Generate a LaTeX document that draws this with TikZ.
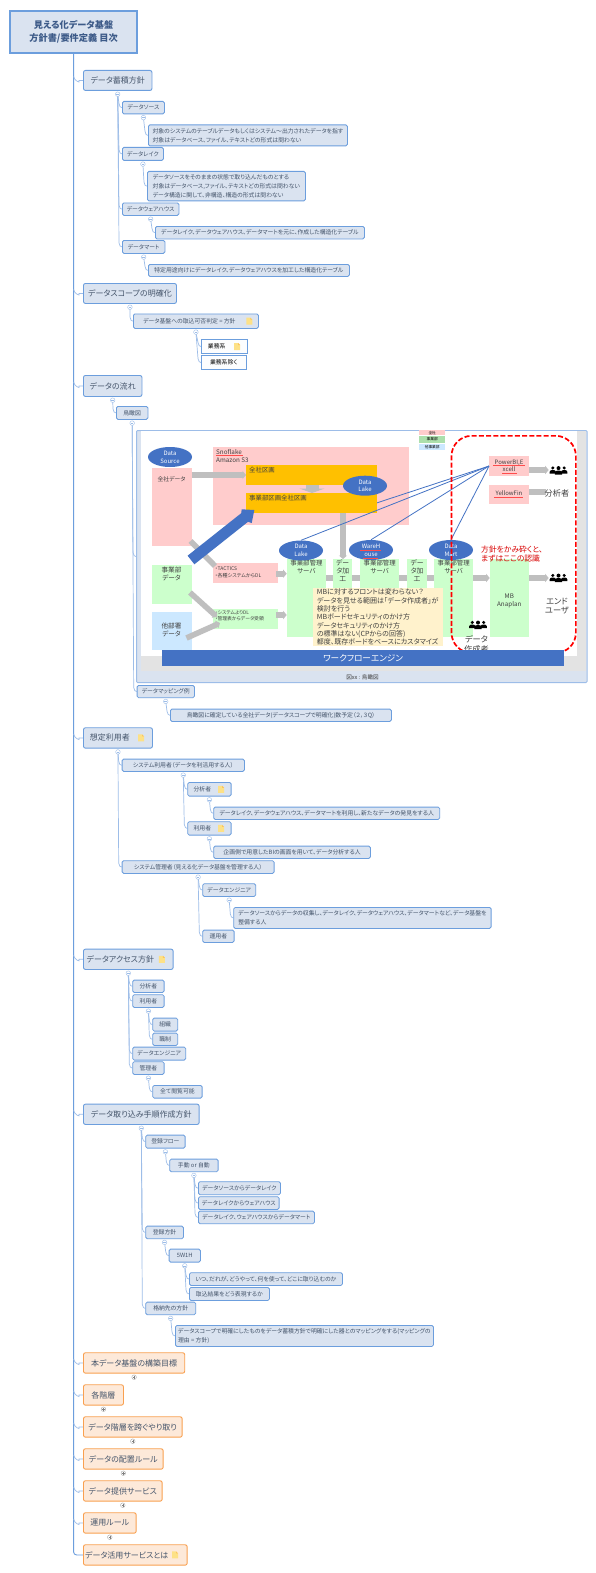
\documentclass[tikz,border=0pt]{standalone}
\usepackage{fontspec}
\setmainfont[RawFeature=+palt]{Noto Sans CJK JP}
\usetikzlibrary{calc,shapes.geometric,arrows.meta}
\pgfdeclarelayer{bgc}\pgfdeclarelayer{frame}\pgfdeclarelayer{under}
\pgfsetlayers{bgc,frame,under,main}
\definecolor{bfill}{HTML}{DAE3F0}
\definecolor{bline}{HTML}{6C9EDD}
\definecolor{cline}{HTML}{9DBDE8}
\definecolor{btext}{HTML}{44546A}
\definecolor{rtext}{HTML}{3C5A88}
\definecolor{ofill}{HTML}{FDE9D9}
\definecolor{oline}{HTML}{F9A050}
\definecolor{pinkb}{HTML}{FFCCCC}
\definecolor{greenb}{HTML}{CCFFCC}
\definecolor{skyb}{HTML}{CCE8FF}
\definecolor{orangeb}{HTML}{FFC000}
\definecolor{blueb}{HTML}{4472C4}
\definecolor{grayb}{HTML}{BFBFBF}
\definecolor{noteb}{HTML}{FFF2CC}
\newcommand{\fs}[2]{\fontsize{#1}{#2}\selectfont}
\newcommand{\nd}[7]{\node[#1,anchor=north west,minimum width={(#5-#3)*1pt},minimum height={(#6-#4)*1pt}] (#2) at (#3,#4) {#7};}
\newcommand{\lnk}[2]{\begin{pgfonlayer}{bgc}\draw[conn] ($(#1.south)+(0,3.3)$) -- ($(#2.west)+(-3,-4)$) .. controls ($(#2.west)+(-3,-1)$) and ($(#2.west)+(-1,0)$) .. (#2.west);\end{pgfonlayer}}
\newcommand{\tlnk}[1]{\begin{pgfonlayer}{bgc}\draw[conn] (root.south |- #1.west) ++(0,-4) .. controls +(0,3.5) and +(2,4) .. ($(#1.west)+(-4,0)$) -- (#1.west);\end{pgfonlayer}}
\newcommand{\bub}[1]{\node[bubble] (#1-b) at ($(#1.south)+(0,3.3)$) {}; \draw[cline,line width=.4] ($(#1-b.center)+(-1.3,0)$) -- ($(#1-b.center)+(1.3,0)$);}
\newcommand{\bubp}[1]{\node[bubble,draw=gray!70] (#1-b) at ($(#1.south)+(0,3.6)$) {}; \draw[gray,line width=.35] ($(#1-b.center)+(-1.3,0)$) -- ($(#1-b.center)+(1.3,0)$) ($(#1-b.center)+(0,-1.3)$) -- ($(#1-b.center)+(0,1.3)$);}
\newcommand{\nic}[2]{\fill[notei] ($(#1.east)+(-#2-3,-3.5)$) -- ++(4,0) -- ++(2,2) -- ++(0,5) -- ++(-6,0) -- cycle; \fill[notei!70!orange] ($(#1.east)+(-#2+1,-3.5)$) -- ++(2,2) -- ++(-2,0) -- cycle;}
\newcommand{\people}[2]{\begin{scope}[shift={(#1,#2)}]
\foreach \dx/\dy/\s in {-5.7/-.5/.85,5.7/-.5/.85,0/0/1}{
\begin{scope}[shift={(\dx,\dy)},scale=\s]
\fill[black] (0,-2.4) circle (2);
\fill[black] (-3.6,4.2) -- (-3.6,2) .. controls (-3.6,.2) and (-1.8,.1) .. (0,.1) .. controls (1.8,.1) and (3.6,.2) .. (3.6,2) -- (3.6,4.2) -- cycle;
\end{scope}}
\end{scope}}
\newcommand{\spl}[3]{\draw[red!70,line width=.3] (#1,#3) -- (#2,#3);}
\colorlet{notei}{yellow!55!orange!45}
\tikzset{
 rootbox/.style={draw=bline,fill=bfill,line width=2.2pt,inner sep=0,text=rtext,align=center,font=\bfseries\fs{9.2}{13}},
 lone/.style={draw=bline,fill=bfill,line width=.9pt,rounded corners=2pt,inner sep=0,text=btext,font=\fs{8}{11}},
 ltwo/.style={draw=bline,fill=bfill,line width=.8pt,rounded corners=1.5pt,inner sep=0,text=btext,align=left,font=\fs{5.85}{8.7}},
 lwhite/.style={draw=bline,fill=white!92!bfill,line width=1pt,inner sep=0,text=black,font=\fs{5.85}{8.7}},
 lorange/.style={draw=oline,fill=ofill,line width=.9pt,rounded corners=2pt,inner sep=0,text=btext,font=\fs{8}{11}},
 conn/.style={draw=cline,line width=.7pt},
 bubble/.style={circle,draw=cline,fill=white,line width=.4pt,minimum size=4.6pt,inner sep=0},
 plain/.style={inner sep=0,align=center,text=black!75},
 solid box/.style={inner sep=0,draw=none},
 ell/.style={ellipse,fill=blueb,minimum width=44pt,minimum height=20pt,inner sep=0,text=white,align=center,font=\fs{6}{7.7}},
 garrow/.style={draw=grayb,line width=5.6pt,-{Triangle[length=3.5pt,width=8pt]}},
 gline/.style={draw=grayb,line width=5.6pt},
 bluel/.style={draw=blueb,line width=.8pt},
}
\begin{document}
\begin{tikzpicture}[x=1pt,y=-1pt]
\useasboundingbox (0,0) rectangle (596,1573);
% ---- main tree nodes
\nd{rootbox}{root}{9}{10}{136}{52}{見える化データ基盤\\方針書/要件定義 目次}
\nd{lone}{a}{83}{70}{151.5}{90}{データ蓄積方針}
\nd{ltwo}{a1}{122}{101}{164}{113.5}{データソース}
\nd{ltwo}{a1d}{148}{124.5}{347}{145.5}{対象のシステムのテーブルデータもしくはシステム～出力されたデータを指す\\対象はデータベース、ファイル、テキストどの形式は問わない}
\nd{ltwo}{a2}{122}{147}{163}{160}{データレイク}
\nd{ltwo}{a2d}{147}{171}{305}{200.5}{データソースをそのままの状態で取り込んだものとする\\対象はデータベース,ファイル、テキストどの形式は問わない\\データ構造に関して、非構造、構造の形式は問わない}
\nd{ltwo}{a3}{122}{202.5}{178.5}{215}{データウェアハウス}
\nd{ltwo}{a3d}{155}{226}{364}{238.5}{データレイク、データウェアハウス、データマートを元に、作成した構造化テーブル}
\nd{ltwo}{a4}{122}{240}{164.5}{253}{データマート}
\nd{ltwo}{a4d}{148}{264}{349}{276}{特定用途向けにデータレイク、データウェアハウスを加工した構造化テーブル}
\nd{lone}{b}{83}{283}{176}{303}{データスコープの明確化}
\nd{ltwo}{b1}{133}{313.5}{258}{328}{データ基盤への取込可否判定 = 方針\hspace*{13pt}}
\nd{lwhite}{b11}{201}{339}{246.5}{353}{業務系\hspace*{15pt}}
\nd{lwhite}{b12}{201}{355}{245.5}{369}{業務系除く}
\nd{lone}{c}{83}{375}{141.5}{396}{データの流れ}
\nd{ltwo}{c1}{116}{406}{147.5}{419}{鳥瞰図}
\nd{ltwo}{c2}{136.7}{685}{194}{697.3}{データマッピング例}
\nd{ltwo}{c2d}{170}{708.7}{391}{721}{鳥瞰図に確定している全社データ(データスコープで明確化)数予定（２，３Q）}
\nd{lone}{d}{83}{727.3}{152}{747.7}{想定利用者\hspace*{16pt}}
\nd{ltwo}{d1}{121.7}{758.7}{244}{771}{システム利用者（データを利活用する人）}
\nd{ltwo}{d11}{187.3}{782}{230.7}{795.7}{分析者\hspace*{14pt}}
\nd{ltwo}{d11d}{213.3}{806.7}{439.3}{819}{データレイク、データウェアハウス、データマートを利用し、新たなデータの発見をする人}
\nd{ltwo}{d12}{187.3}{821.3}{230.7}{834.7}{利用者\hspace*{14pt}}
\nd{ltwo}{d12d}{213.3}{845.7}{370}{858}{企画側で用意したBIの画面を用いて、データ分析する人}
\nd{ltwo}{d2}{121.7}{860.3}{273.7}{873}{システム管理者（見える化データ基盤を管理する人）}
\nd{ltwo}{d21}{202.3}{883.3}{255.3}{896}{データエンジニア}
\nd{ltwo}{d21d}{233.3}{907}{490.7}{928}{データソースからデータの収集し、データレイク、データウェアハウス、データマートなど、データ基盤を\\整備する人}
\nd{ltwo}{d22}{202.3}{929.7}{233.7}{942}{運用者}
\nd{lone}{e}{83}{948.7}{172.7}{969}{データアクセス方針\hspace*{16pt}}
\nd{ltwo}{e1}{132.3}{979.7}{163.7}{992}{分析者}
\nd{ltwo}{e2}{132.3}{994.3}{163.7}{1007}{利用者}
\nd{ltwo}{e21}{152.3}{1017.7}{177.3}{1030.7}{組織}
\nd{ltwo}{e22}{152.3}{1032.7}{177.3}{1045}{職制}
\nd{ltwo}{e3}{132.3}{1046.7}{185.3}{1059.7}{データエンジニア}
\nd{ltwo}{e4}{132.3}{1061.3}{163.7}{1074}{管理者}
\nd{ltwo}{e41}{152.3}{1085}{201.7}{1097.7}{全て閲覧可能}
\nd{lone}{f}{83}{1103.7}{198.7}{1124}{データ取り込み手順作成方針}
\nd{ltwo}{f1}{145.3}{1134.7}{184.7}{1147.7}{登録フロー}
\nd{ltwo}{f11}{169.3}{1158.7}{217.7}{1171.3}{手動 or 自動}
\nd{ltwo}{f111}{198}{1181.3}{280}{1194.3}{データソースからデータレイク}
\nd{ltwo}{f112}{198}{1196.3}{278.7}{1209}{データレイクからウェアハウス}
\nd{ltwo}{f113}{198}{1210.7}{314}{1223.3}{データレイク、ウェアハウスからデータマート}
\nd{ltwo}{f2}{145.3}{1225.7}{183}{1238.3}{登録方針}
\nd{ltwo}{f21}{168.7}{1248.7}{200}{1261.7}{5W1H}
\nd{ltwo}{f211}{189}{1272.3}{342}{1285}{いつ、だれが、どうやって、何を使って、どこに取り込むのか}
\nd{ltwo}{f212}{189}{1287}{269}{1300}{取込結果をどう表現するか}
\nd{ltwo}{f3}{145.3}{1301.7}{195.3}{1314.3}{格納先の方針}
\nd{ltwo}{f3d}{175}{1325}{433}{1346}{データスコープで明確にしたものをデータ蓄積方針で明確にした器とのマッピングをする(マッピングの\\理由 = 方針)}
\nd{lorange}{g}{83}{1352.3}{184.3}{1372.7}{本データ基盤の構築目標}
\nd{lorange}{h}{83}{1384.3}{123}{1404.7}{各階層}
\nd{lorange}{i}{83}{1416.3}{181.7}{1436.7}{データ階層を跨ぐやり取り}
\nd{lorange}{j}{83}{1448.3}{162.7}{1468.7}{データの配置ルール}
\nd{lorange}{k}{83}{1480.3}{161.7}{1500.7}{データ提供サービス}
\nd{lorange}{l}{83}{1512.3}{135.7}{1532.7}{運用ルール}
\nd{lorange}{m}{83}{1544.3}{186.7}{1564.7}{データ活用サービスとは\hspace*{17pt}}
% ---- picture frame
\begin{pgfonlayer}{bgc}
\fill[white] (0,0) rectangle (596,1573);
\end{pgfonlayer}
\begin{pgfonlayer}{frame}
\node[draw=cline,fill=bfill,line width=1pt,rounded corners=1pt,inner sep=0,anchor=north west,minimum width=450.5pt,minimum height=252pt] (pic) at (136,430) {};
\fill[white] (141,431) rectangle (577,655.5);
\fill[gray!22] (577,431) rectangle (586,671);
\fill[gray!22] (141,655.5) rectangle (577,671);
\nd{solid box,fill=pinkb}{snow}{213}{447}{408.5}{524.5}{}
\end{pgfonlayer}
% ---- boxes inside picture
\nd{solid box,fill=pinkb}{zen}{152}{468}{191.5}{546}{}
\node[plain,font=\fs{5.8}{8}] (zent) at (171.5,479) {全社データ};
\nd{solid box,fill=orangeb}{or1}{246}{465}{377}{485}{}
\nd{solid box,fill=orangeb}{or2}{246}{493}{377}{513}{}
\node[plain,anchor=west,font=\fs{6.4}{8}] (or1t) at (249,470) {全社区画};
\node[plain,anchor=west,font=\fs{6.4}{8}] (or2t) at (249,497.7) {事業部区画全社区画};
\node[plain,anchor=north west,align=left,font=\fs{6.3}{8}] (snowt) at (216,449.3) {Snoflake\\Amazon S3};
\nd{solid box,fill=greenb}{jig}{152}{565}{191.5}{604}{}
\node[plain,font=\fs{6.6}{7.8}] (jigt) at (171.5,574) {事業部\\データ};
\nd{solid box,fill=skyb}{tab}{152}{611.7}{191.5}{650}{}
\node[plain,font=\fs{6.6}{8.3}] (tabt) at (171.5,630) {他部署\\データ};
\nd{solid box,fill=pinkb}{tac}{213}{563}{278}{583}{}
\node[plain,anchor=west,align=left,font=\fs{5}{6.7}] (tact) at (215,572.5) {・TACTICS\\・各種システムからDL};
\nd{solid box,fill=greenb}{sys}{213}{609}{278}{629}{}
\node[plain,anchor=west,align=left,font=\fs{4.8}{6}] (syst) at (215,615.3) {・システムよりDL\\・管理表からデータ受領};
\nd{solid box,fill=greenb}{sv1}{286.7}{559}{325.7}{637}{}
\nd{solid box,fill=greenb}{ka1}{333}{559}{352}{590}{}
\nd{solid box,fill=greenb}{sv2}{360}{559}{399}{637}{}
\nd{solid box,fill=greenb}{ka2}{407}{559}{426.7}{590}{}
\nd{solid box,fill=greenb}{sv3}{434}{559}{473}{637}{}
\nd{solid box,fill=greenb}{mb}{489.7}{559}{529}{637}{}
\node[plain,font=\fs{6.3}{8}] (mbt) at (509.3,601.3) {MB\\Anaplan};
\foreach \n in {sv1,sv2,sv3}{\node[plain,anchor=north,font=\fs{6.4}{7.7}] (\n t) at ($(\n.north)+(0,1)$) {事業部管理\\サーバ};}
\foreach \n in {ka1,ka2}{\node[plain,anchor=north,font=\fs{6.8}{7.7}] (\n t) at ($(\n.north)+(0,1)$) {デー\\タ加\\工};}
\nd{solid box,fill=pinkb}{pbi}{489}{456}{529}{475.7}{}
\node[plain,font=\fs{6}{7.6}] (pbit) at (509,465.8) {PowerBI,E\\xcell};
\nd{solid box,fill=pinkb}{yel}{489}{485}{529}{504}{}
\node[plain,font=\fs{6}{8}] (yelt) at (509,493.5) {YellowFin};
% legend
\nd{solid box,fill=pinkb,font=\fs{3.7}{4},text=black}{lg1}{419}{430}{445}{435}{全社}
\nd{solid box,fill=green!45!gray!45,font=\fs{3.7}{4},text=black}{lg2}{419}{436}{445}{442.3}{事業部}
\nd{solid box,fill=skyb,font=\fs{3.7}{4},text=black}{lg3}{419}{443.7}{445}{450}{他事業部}
% pipes & blue lines under the boxes
\begin{pgfonlayer}{under}
\draw[garrow] (sv1.east |- 0,578) -- (mb.west |- 0,578);
\coordinate (dlA) at (350,511.7);
\draw[bluel] (dlA) -- (pbi.west);
\end{pgfonlayer}
\draw[garrow] (zen.east |- 0,475) -- (or1.west |- 0,475);
\draw[draw=grayb,line width=13pt,-{Triangle[length=4.5pt,width=25pt]}] (or1.south -| 312,0) -- (or2.north -| 312,0);
\draw[garrow] (or2.south -| 343,0) -- (ka1.north -| 343,0);
\coordinate (g1s) at (190.5,541); \coordinate (g1e) at (215,566);
\draw[gline] (g1s) -- (g1e);
\coordinate (g2s) at (190,592.5); \coordinate (g2e) at (217,617);
\draw[garrow] (g2s) -- (g2e);
\coordinate (g3s) at (186.5,638); \coordinate (g3e) at (220,623);
\draw[garrow] (g3s) -- (g3e);
\draw[garrow] ($(tac.east |- 0,573.7)+(-2.3,0)$) -- (sv1.west |- 0,573.7);
\draw[garrow] ($(sys.east |- 0,615)+(-2.3,0)$) -- (sv1.west |- 0,615);
\draw[garrow] (pbi.east |- 0,470) -- ++(19.3,0) coordinate (parr);
\draw[gline] (yel.east |- 0,492) -- ++(17,0) coordinate (yarr);
\draw[garrow] (mb.east |- 0,578) -- ++(19.3,0) coordinate (marr);
% big blue arrow
\fill[blueb] (187.6,555.7) -- (241.2,513.2) -- (241.7,509.3) -- (254.3,510) -- (251.7,523) -- (248,521.8) -- (194.4,564.3) -- cycle;
% note
\nd{solid box,fill=noteb,align=left,font=\fs{7}{8.3},text=black!75}{note}{312.3}{587.7}{442.7}{646}{MBに対するフロントは変わらない？\\データを見せる範囲は「データ作成者」が\\検討を行う\\MBボードセキュリティのかけ方\\データセキュリティのかけ方\\の標準はない(CPからの回答)\\都度、既存ボードをベースにカスタマイズ}
% ellipses
\node[ell] (ds) at (170,457) {Data\\Source};
\node[ell] (dl1) at (365,485.7) {Data\\Lake};
\node[ell] (dl2) at (301,550.5) {Data\\Lake};
\node[ell] (wh) at (371,550) {WareH\\ouse};
\node[ell] (dm) at (451,550) {Data\\Mart};
\draw[bluel] (dl2.north) -- (pbi.west);
\draw[bluel] (wh.north) -- (pbi.west);
\draw[bluel] (dm.north) -- (pbi.west);
% people
\people{558.5}{470.5}
\people{558.5}{578}
\people{478}{625}
\node[plain,font=\fs{8.2}{9}] (lab1) at (557,606) {エンド\\ユーザ};
\node[plain,font=\fs{8.2}{9.3}] (lab2) at (476.5,644.5) {データ\\作成者};
\node[plain,font=\fs{8.2}{9}] (lab3) at (557,493) {分析者};
% red
\node[draw=red,line width=1.7pt,dash pattern=on 5pt off 2.2pt,rounded corners=20pt,inner sep=0,anchor=north west,minimum width=124.3pt,minimum height=217pt] (redr) at (450.7,435) {};
\node[plain,text=red!85!black,align=left,anchor=west,font=\fs{7.8}{9.8}] (redt) at (481,554) {方針をかみ砕くと、\\まずはここの認識};
% workflow band
\nd{solid box,fill=blueb,font=\fs{8.6}{9},text=white}{wf}{161.7}{650}{564}{665.3}{ワークフローエンジン}
\node[plain,font=\fs{5.6}{7}] (cap) at (362.5,677) {図xx : 鳥瞰図};
% ---- connectors
\begin{pgfonlayer}{bgc}
\draw[draw=bline,line width=.9pt,rounded corners=3pt] (root.south) |- (m.west);
\end{pgfonlayer}
\foreach \n in {a,b,c,d,e,f,g,h,i,j,k,l}{\tlnk{\n}}
\lnk{a}{a1}\lnk{a}{a2}\lnk{a}{a3}\lnk{a}{a4}
\lnk{a1}{a1d}\lnk{a2}{a2d}\lnk{a3}{a3d}\lnk{a4}{a4d}
\lnk{b}{b1}\lnk{b1}{b11}\lnk{b1}{b12}
\lnk{c}{c1}\lnk{c1}{pic}\lnk{c1}{c2}\lnk{c2}{c2d}
\lnk{d}{d1}\lnk{d}{d2}\lnk{d1}{d11}\lnk{d1}{d12}\lnk{d11}{d11d}\lnk{d12}{d12d}
\lnk{d2}{d21}\lnk{d2}{d22}\lnk{d21}{d21d}
\lnk{e}{e1}\lnk{e}{e2}\lnk{e}{e3}\lnk{e}{e4}\lnk{e2}{e21}\lnk{e2}{e22}\lnk{e4}{e41}
\lnk{f}{f1}\lnk{f}{f2}\lnk{f}{f3}\lnk{f1}{f11}\lnk{f11}{f111}\lnk{f11}{f112}\lnk{f11}{f113}
\lnk{f2}{f21}\lnk{f21}{f211}\lnk{f21}{f212}\lnk{f3}{f3d}
\foreach \n in {a,a1,a2,a3,a4,b,b1,c,c1,c2,d,d1,d11,d12,d2,d21,e,e2,e4,f,f1,f11,f2,f21,f3}{\bub{\n}}
\foreach \n in {g,h,i,j,k,l}{\bubp{\n}}
% note icons
\nic{b1}{9.5}\nic{b11}{10.5}\nic{d}{11.7}\nic{d11}{10.4}\nic{d12}{10.4}\nic{e}{11.7}\nic{m}{12.4}
% spell-check underlines
\spl{216}{243}{455}\spl{360}{381}{550}\spl{363}{378}{557.7}\spl{493}{525}{465}\spl{502}{517}{472.7}\spl{494}{523}{497}
\end{tikzpicture}
\end{document}
